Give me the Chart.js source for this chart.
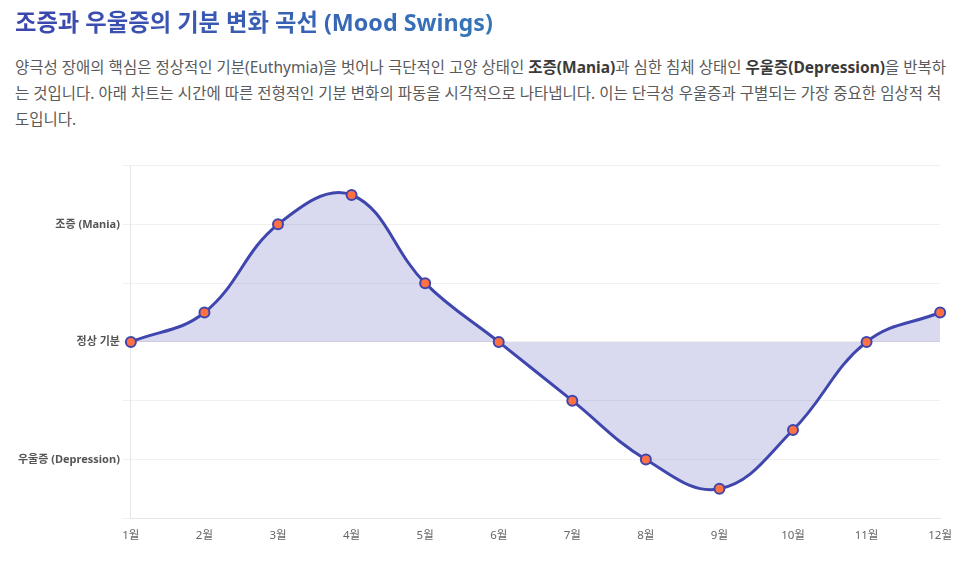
<!DOCTYPE html>
<html>
<head>
    <meta charset="utf-8">
    <title>조증과 우울증의 기분 변화 곡선</title>
    <script src="https://cdn.jsdelivr.net/npm/chart.js"></script>
    <style>
        body {
            margin: 0;
            background: #fff;
            font-family: "Noto Sans", "Noto Sans CJK KR", sans-serif;
        }
        .wrap {
            position: absolute;
            left: 15px;
            top: 0;
            width: 940px;
        }
        h2 {
            margin: 6px 0 0 0;
            font-size: 23.3px;
            font-weight: 700;
            line-height: 32px;
            display: inline-block;
            background: linear-gradient(to right, #3c46ad, #3576b9);
            -webkit-background-clip: text;
            background-clip: text;
            color: transparent;
        }
        p {
            margin: 16px 0 0 0;
            font-size: 15.5px;
            line-height: 26px;
            color: #5a5a5a;
        }
        p b {
            color: #3a3a3a;
        }
        .chart-box {
            position: absolute;
            left: 15px;
            top: 156px;
            width: 940px;
            height: 390px;
        }
    </style>
</head>
<body>
    <div class="wrap">
        <h2>조증과 우울증의 기분 변화 곡선 (Mood Swings)</h2>
        <p>양극성 장애의 핵심은 정상적인 기분(Euthymia)을 벗어나 극단적인 고양 상태인 <b>조증(Mania)</b>과 심한 침체 상태인 <b>우울증(Depression)</b>을 반복하는 것입니다. 아래 차트는 시간에 따른 전형적인 기분 변화의 파동을 시각적으로 나타냅니다. 이는 단극성 우울증과 구별되는 가장 중요한 임상적 척도입니다.</p>
    </div>
    <div class="chart-box">
        <canvas id="moodChart"></canvas>
    </div>

    <script>
        const months = ['1월', '2월', '3월', '4월', '5월', '6월', '7월', '8월', '9월', '10월', '11월', '12월'];
        const moodValues = [0, 1, 4, 5, 2, 0, -2, -4, -5, -3, 0, 1];
        const yTickLabels = { 4: '조증 (Mania)', 0: '정상 기분', '-4': '우울증 (Depression)' };

        const ctx = document.getElementById('moodChart').getContext('2d');
        new Chart(ctx, {
            type: 'line',
            data: {
                labels: months,
                datasets: [{
                    label: '기분 상태',
                    data: moodValues,
                    borderColor: '#3f46ae',
                    backgroundColor: 'rgba(63, 70, 174, 0.2)',
                    borderWidth: 3,
                    fill: 'origin',
                    tension: 0.4,
                    pointRadius: 5,
                    pointHoverRadius: 6,
                    pointBackgroundColor: '#ff7043',
                    pointBorderColor: '#3f46ae',
                    pointBorderWidth: 2
                }]
            },
            options: {
                responsive: true,
                maintainAspectRatio: false,
                animation: false,
                plugins: {
                    legend: { display: false },
                    tooltip: { enabled: false }
                },
                scales: {
                    x: {
                        grid: { display: false },
                        border: { color: '#e6e6e6' },
                        ticks: {
                            color: '#666',
                            font: { family: '"Noto Sans", "Noto Sans CJK KR"', size: 11.5 }
                        }
                    },
                    y: {
                        min: -6,
                        max: 6,
                        grid: { color: '#f0f0f0' },
                        border: { color: '#e6e6e6' },
                        ticks: {
                            stepSize: 2,
                            color: '#555',
                            font: { family: '"Noto Sans", "Noto Sans CJK KR"', size: 11, weight: 'bold' },
                            callback: function(value) {
                                return yTickLabels[value] || '';
                            }
                        }
                    }
                }
            }
        });
    </script>
</body>
</html>
